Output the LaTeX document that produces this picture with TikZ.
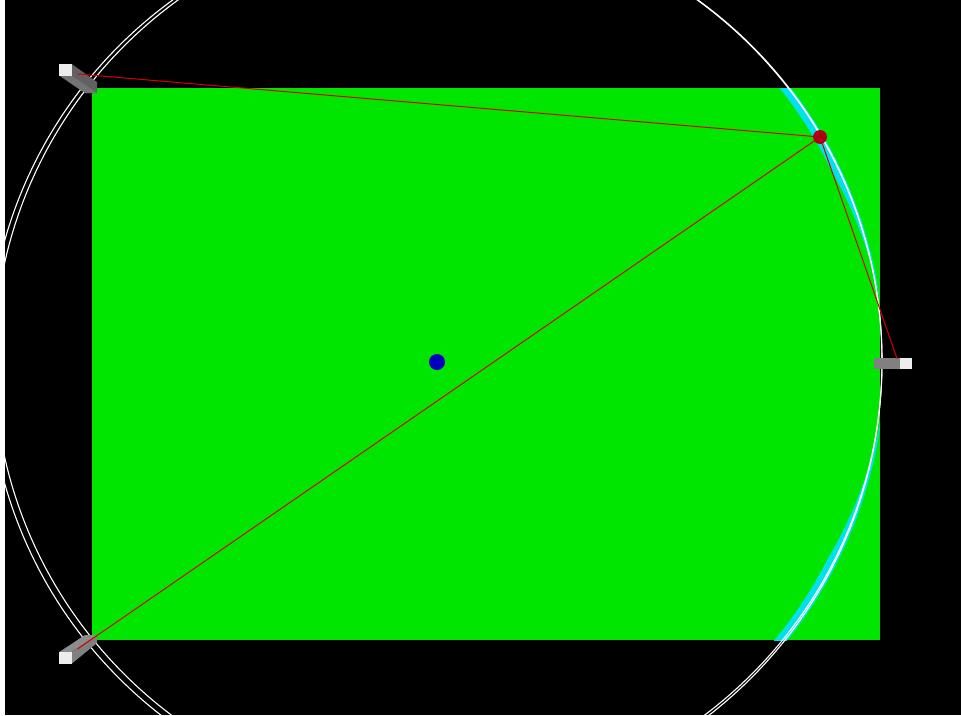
\documentclass[tikz,border=0pt]{standalone}
\usepackage{tikz}
\usepackage{xcolor}
\definecolor{floorgreen}{RGB}{0,230,0}
\definecolor{beamred}{RGB}{215,0,0}
\definecolor{ballred}{RGB}{175,0,20}
\definecolor{ballblue}{RGB}{0,0,190}
\definecolor{rimcyan}{RGB}{0,225,240}
\tikzset{
  ball/.style={circle, inner sep=0pt, minimum size=#1},
  beam/.style={draw=beamred, line width=1pt},
  rim/.style={draw=white, line width=1.1pt},
}
\begin{document}
\begin{tikzpicture}[x=1pt,y=-1pt]
  \useasboundingbox (0,0) rectangle (961,715);
  \fill[white] (0,0) rectangle (5,715);
  \fill[black] (5,0) rectangle (961,715);
  \clip (5,0) rectangle (961,715);
  \coordinate (centre) at (437,362);
  \coordinate (hit) at (820,137);
  \coordinate (tipa) at (77.5,74);
  \coordinate (tipb) at (77.5,649);
  \coordinate (tipc) at (897,358.5);
  % piano verde
  \fill[floorgreen] (92,88) rectangle (880,640);
  % bordo ciano
  \begin{scope}
    \clip (92,88) rectangle (880,640);
    \fill[rimcyan] plot[domain=8:40, samples=33] ({437+447*cos(\x)},{361-447*sin(\x)})
      -- plot[domain=40:8, samples=33] ({437+(447-min(9,(\x-8)*0.5))*cos(\x)},{361-(447-min(9,(\x-8)*0.5))*sin(\x)}) -- cycle;
    \fill[rimcyan] plot[domain=7:40, samples=33] ({437+448*cos(\x)},{361+448*sin(\x)})
      -- plot[domain=40:7, samples=33] ({437+(448-min(10,(\x-7)*0.5))*cos(\x)},{361+(448-min(10,(\x-7)*0.5))*sin(\x)}) -- cycle;
  \end{scope}
  % cerchi
  \draw[rim] (438,360) circle (444);
  \draw[rim] (435,362) circle (447);
  % sorgenti
  \fill[black!62] (59.3,75.5) -- (71.7,64) -- (97,82) -- (97,93) -- (85,93) -- cycle;
  \fill[black!55] (59.3,75.5) -- (71.7,75.5) -- (97,93) -- (85,93) -- cycle;
  \fill[black!7] (59.3,64) rectangle (71.7,75.5);
  \fill[black!45] (59.3,652) -- (85,635) -- (97,635) -- (71.7,652) -- cycle;
  \fill[black!50] (71.7,652) -- (97,635) -- (97,643) -- (71.7,663.7) -- cycle;
  \fill[black!7] (59.3,652) rectangle (71.7,663.7);
  \fill[black!50] (874,358.3) rectangle (900,369.3);
  \fill[black!7] (900,358.3) rectangle (912,369.3);
  % raggi
  \draw[beam] (hit) -- (tipa);
  \draw[beam] (hit) -- (tipb);
  \draw[beam] (hit) -- (tipc);
  % palline
  \node[ball=14pt, fill=ballred] (target) at (hit) {};
  \node[ball=16pt, fill=ballblue] (source) at (centre) {};
\end{tikzpicture}
\end{document}
